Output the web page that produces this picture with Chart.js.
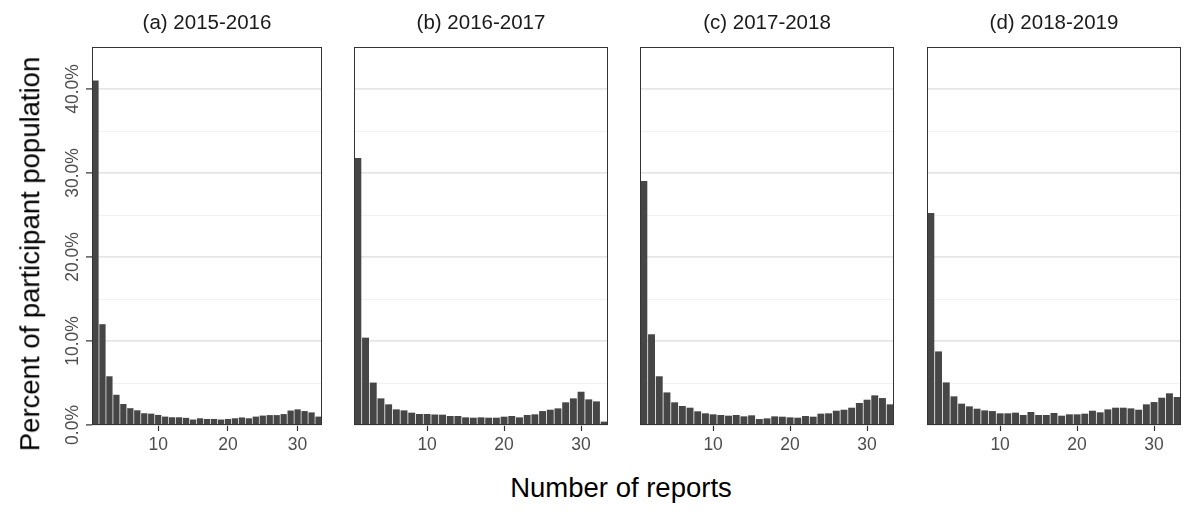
<!DOCTYPE html>
<html>
<head>
<meta charset="utf-8">
<script src="https://cdn.jsdelivr.net/npm/chart.js@4.4.1/dist/chart.umd.min.js"></script>
<style>
  html, body { margin: 0; padding: 0; background: #fff; }
  body { width: 1200px; height: 517px; position: relative; overflow: hidden; font-family: "Liberation Sans", Arial, sans-serif; }
  .panel { position: absolute; top: 0; height: 460px; }
  .axis-title { position: absolute; font-size: 27.5px; color: #000; white-space: nowrap; line-height: 1; }
  #xTitle { left: 621px; top: 488px; transform: translate(-50%, -50%); }
  #yTitle { left: 30px; top: 253.5px; transform: translate(-50%, -50%) rotate(-90deg); }
</style>
</head>
<body>
<div class="panel" style="left:0px;width:324px"><canvas id="p0"></canvas></div>
<div class="panel" style="left:352px;width:258px"><canvas id="p1"></canvas></div>
<div class="panel" style="left:638px;width:258px"><canvas id="p2"></canvas></div>
<div class="panel" style="left:925px;width:258px"><canvas id="p3"></canvas></div>
<div class="axis-title" id="yTitle">Percent of participant population</div>
<div class="axis-title" id="xTitle">Number of reports</div>

<script>
// ===== DATA =====
const reports = [1, 2, 3, 4, 5, 6, 7, 8, 9, 10, 11, 12, 13, 14, 15, 16, 17, 18, 19, 20,
                 21, 22, 23, 24, 25, 26, 27, 28, 29, 30, 31, 32, 33];
const panelTitles = ['(a) 2015-2016', '(b) 2016-2017', '(c) 2017-2018', '(d) 2018-2019'];

// percent of participants by number of reports
const pct2015 = [41.0, 12.0, 5.8, 3.6, 2.5, 2.0, 1.75, 1.4, 1.35, 1.2, 1.0, 0.92, 0.92, 0.85, 0.65, 0.8, 0.72,
                 0.72, 0.65, 0.72, 0.8, 0.9, 0.8, 1.0, 1.12, 1.18, 1.18, 1.3, 1.72, 1.86, 1.66, 1.5, 1.0];
const pct2016 = [31.8, 10.4, 5.05, 3.17, 2.46, 1.86, 1.74, 1.47, 1.31, 1.31, 1.25, 1.23, 1.07, 1.07, 0.91, 0.87, 0.91,
                 0.87, 0.87, 0.99, 1.07, 0.91, 1.19, 1.27, 1.66, 1.82, 1.98, 2.7, 3.17, 3.96, 3.05, 2.81, 0.4];
const pct2017 = [29.05, 10.8, 5.8, 3.88, 2.7, 2.26, 2.06, 1.63, 1.39, 1.27, 1.19, 1.11, 1.19, 1.03, 1.15, 0.71, 0.79,
                 1.03, 0.99, 0.91, 0.87, 1.07, 0.99, 1.35, 1.39, 1.7, 1.82, 2.06, 2.62, 3.01, 3.53, 3.21, 2.46];
const pct2018 = [25.25, 8.76, 5.07, 3.41, 2.54, 2.22, 1.94, 1.74, 1.66, 1.39, 1.39, 1.47, 1.19, 1.55, 1.19, 1.19, 1.43,
                 1.11, 1.27, 1.27, 1.35, 1.7, 1.51, 1.86, 2.06, 2.06, 1.98, 1.82, 2.46, 2.73, 3.25, 3.77, 3.33];

const yTicks = [0, 5, 10, 15, 20, 25, 30, 35, 40];
const xTicks = [10, 20, 30];

// ===== STYLE =====
const FONT = 'Liberation Sans, Arial, sans-serif';
const isMajor = v => v % 10 === 0;

// panel border (ggplot-like box around plot area)
const panelBox = {
    id: 'panelBox',
    afterDatasetsDraw(chart) {
        const { ctx, chartArea: a } = chart;
        ctx.save();
        ctx.strokeStyle = '#333';
        ctx.lineWidth = 1;
        ctx.strokeRect(Math.round(a.left) + 0.5, Math.round(a.top) + 0.5,
            Math.round(a.right - a.left) - 1, Math.round(a.bottom - a.top) - 1);
        ctx.restore();
    }
};

function makePanel(id, title, values, showY) {
    return new Chart(document.getElementById(id), {
        type: 'bar',
        data: {
            datasets: [{
                data: values.map((v, i) => ({ x: reports[i], y: v })),
                backgroundColor: '#464646',
                borderWidth: 0,
                barPercentage: 0.9,
                categoryPercentage: 1.0
            }]
        },
        options: {
            responsive: true,
            maintainAspectRatio: false,
            animation: false,
            layout: { padding: { left: showY ? 0 : 2, right: 2, top: 0, bottom: 0 } },
            plugins: {
                legend: { display: false },
                tooltip: { enabled: false },
                title: {
                    display: true, text: title, fullSize: false, color: '#1a1a1a',
                    font: { family: FONT, size: 20.5, weight: 'normal', lineHeight: 1.2 },
                    padding: { top: 11, bottom: 11.4 }
                }
            },
            scales: {
                x: {
                    type: 'linear', min: 0.5, max: 33.5, offset: false,
                    afterBuildTicks: s => { s.ticks = xTicks.map(v => ({ value: v })); },
                    afterFit: s => { s.height = 35; },
                    grid: { offset: false, drawOnChartArea: false, drawTicks: true, tickLength: 6, tickWidth: 1.2, tickColor: '#333' },
                    border: { display: false },
                    ticks: { color: '#4d4d4d', font: { family: FONT, size: 17.5 }, padding: 3.5, maxRotation: 0, autoSkip: false }
                },
                y: {
                    min: 0, max: 45,
                    afterBuildTicks: s => { s.ticks = yTicks.map(v => ({ value: v })); },
                    afterFit: s => { s.width = showY ? 92 : 0; },
                    grid: {
                        color: c => isMajor(c.tick.value) ? '#e6e6e6' : '#f0f0f0',
                        lineWidth: c => isMajor(c.tick.value) ? 1.8 : 0.9,
                        drawTicks: showY, tickLength: 6, tickWidth: 1.2,
                        tickColor: c => isMajor(c.tick.value) ? '#333' : 'rgba(0,0,0,0)'
                    },
                    border: { display: false },
                    ticks: {
                        display: showY, autoSkip: false, minRotation: 90, maxRotation: 90,
                        crossAlign: 'center', padding: -12.3,
                        color: '#4d4d4d', font: { family: FONT, size: 17.5 },
                        callback: v => isMajor(v) ? v.toFixed(1) + '%' : ''
                    }
                }
            }
        },
        plugins: [panelBox]
    });
}

makePanel('p0', panelTitles[0], pct2015, true);
makePanel('p1', panelTitles[1], pct2016, false);
makePanel('p2', panelTitles[2], pct2017, false);
makePanel('p3', panelTitles[3], pct2018, false);
</script>
</body>
</html>
